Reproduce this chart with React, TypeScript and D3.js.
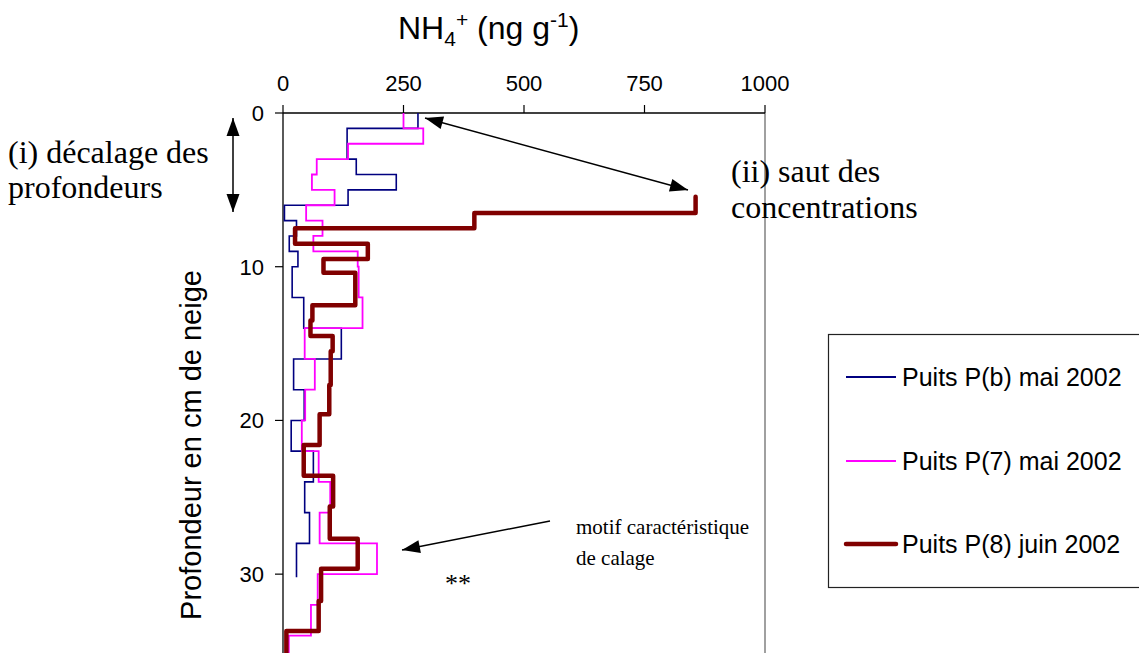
import * as d3 from 'd3'

// NH4+ profiles, step data: depth boundaries (cm) and concentration per layer (ng/g)
const xTicks = [0, 250, 500, 750, 1000]
const yTicks = [0, 10, 20, 30]

const depthsPb = [0, 1, 2, 3, 4, 5, 6, 7, 8, 9, 10, 12, 14, 16, 18, 20, 22, 24, 26, 28, 30.2]
const valuesPb = [280, 133, 133, 152, 235, 135, 3, 28, 13, 31, 19, 43, 121, 22, 44, 17, 63, 45, 55, 28]

const depthsP7 = [0, 1, 2, 3, 4, 5, 6, 7, 8, 9, 10, 12, 14, 16, 18, 20, 22, 24, 26, 28, 30, 32, 34, 36]
const valuesP7 = [250, 291, 135, 70, 60, 107, 48, 82, 63, 155, 157, 165, 45, 66, 46, 39, 74, 98, 76, 195, 72, 58, 12]

const depthsP8 = [5.45, 6.5, 7.5, 8.5, 9.5, 10.4, 12.5, 13.5, 14.5, 15.5, 17.7, 19.6, 21.6, 23.6, 25.6, 27.7, 29.65, 31.75, 33.7, 36]
const valuesP8 = [856, 397, 25, 176, 84, 150, 61, 57, 103, 99, 96, 76, 43, 104, 97, 155, 79, 74, 7]

const seriesNames = ['Puits P(b) mai 2002', 'Puits P(7) mai 2002', 'Puits P(8) juin 2002']
const seriesColors = ['#000080', '#FF00FF', '#800000']
const seriesWidths = [1.6, 1.8, 4.5]

const W = 1139
const H = 653
const sans = '"Liberation Sans", Arial, sans-serif'
const serif = '"Liberation Serif", "Times New Roman", serif'

const x = d3.scaleLinear().domain([0, 1000]).range([283, 765])
const y = d3.scaleLinear().domain([0, 35]).range([113, 651])

function stepPoints(depths: number[], values: number[]): [number, number][] {
  const pts: [number, number][] = []
  values.forEach((v, i) => {
    pts.push([v, depths[i]])
    pts.push([v, depths[i + 1]])
  })
  return pts
}

const line = d3
  .line<[number, number]>()
  .x((d) => x(d[0]))
  .y((d) => y(d[1]))

// filled arrow head, tip at (tx,ty), coming from (fx,fy)
function head(tx: number, ty: number, fx: number, fy: number, len = 18, half = 6.5) {
  const a = Math.atan2(ty - fy, tx - fx)
  const bx = tx - len * Math.cos(a)
  const by = ty - len * Math.sin(a)
  const px = -Math.sin(a) * half
  const py = Math.cos(a) * half
  return `M${tx},${ty}L${bx + px},${by + py}L${bx - px},${by - py}Z`
}

function Arrow({ x1, y1, x2, y2, both = false }: { x1: number; y1: number; x2: number; y2: number; both?: boolean }) {
  return (
    <g>
      <line x1={x1} y1={y1} x2={x2} y2={y2} stroke="#000" strokeWidth={1.5} />
      <path d={head(x2, y2, x1, y1)} fill="#000" />
      {both && <path d={head(x1, y1, x2, y2)} fill="#000" />}
    </g>
  )
}

export default function App() {
  const series = [
    stepPoints(depthsPb, valuesPb),
    stepPoints(depthsP7, valuesP7),
    stepPoints(depthsP8, valuesP8),
  ]
  const legendY = [377, 461, 544]

  return (
    <svg
      width={W}
      height={H}
      style={{ position: 'absolute', left: 0, top: 0, background: '#fff' }}
    >
      <defs>
        <clipPath id="plot">
          <rect x={x(0)} y={y(0) - 10} width={x(1000) - x(0)} height={H} />
        </clipPath>
      </defs>

      {/* title */}
      <text x={398} y={39} fontFamily={sans} fontSize={32} fill="#000">
        NH
        <tspan fontSize={21} dy={7}>4</tspan>
        <tspan fontSize={21} dy={-19}>+</tspan>
        <tspan fontSize={32} dy={12}>{' (ng g'}</tspan>
        <tspan fontSize={21} dy={-12}>-1</tspan>
        <tspan fontSize={32} dy={12}>)</tspan>
      </text>

      {/* frame */}
      <line x1={x(1000)} x2={x(1000)} y1={y(0)} y2={H} stroke="#808080" strokeWidth={1.5} />
      <line x1={x(0)} x2={x(1000)} y1={y(0)} y2={y(0)} stroke="#000" strokeWidth={1.3} />
      <line x1={x(0)} x2={x(0)} y1={y(0)} y2={H} stroke="#000" strokeWidth={1.3} />

      {xTicks.map((t) => (
        <g key={t}>
          <line x1={x(t)} x2={x(t)} y1={y(0) - 8} y2={y(0)} stroke="#000" strokeWidth={1.2} />
          <text x={x(t)} y={91} textAnchor="middle" fontFamily={sans} fontSize={22} fill="#000">
            {t}
          </text>
        </g>
      ))}
      {yTicks.map((t) => (
        <g key={t}>
          <line x1={x(0) - 8} x2={x(0)} y1={y(t)} y2={y(t)} stroke="#000" strokeWidth={1.2} />
          <text x={264} y={y(t) + 8} textAnchor="end" fontFamily={sans} fontSize={22} fill="#000">
            {t}
          </text>
        </g>
      ))}

      <text
        transform={`translate(201,${445}) rotate(-90)`}
        textAnchor="middle"
        fontFamily={sans}
        fontSize={29}
        fill="#000"
      >
        Profondeur en cm de neige
      </text>

      {/* series */}
      <g clipPath="url(#plot)">
        {series.map((pts, i) => (
          <path
            key={i}
            d={line(pts) ?? ''}
            fill="none"
            stroke={seriesColors[i]}
            strokeWidth={seriesWidths[i]}
            strokeLinejoin={i === 2 ? 'round' : 'miter'}
            strokeLinecap={i === 2 ? 'round' : 'butt'}
          />
        ))}
      </g>

      {/* annotations */}
      <text fontFamily={serif} fontSize={32} fill="#000">
        <tspan x={8} y={163}>(i) décalage des</tspan>
        <tspan x={8} y={198}>profondeurs</tspan>
      </text>
      <Arrow x1={233} y1={118} x2={233} y2={212} both />

      <text fontFamily={serif} fontSize={32} fill="#000">
        <tspan x={731} y={182}>(ii) saut des</tspan>
        <tspan x={731} y={218}>concentrations</tspan>
      </text>
      <Arrow x1={425} y1={118} x2={688} y2={190} both />

      <text fontFamily={serif} fontSize={21} fill="#000">
        <tspan x={576} y={534}>motif caractéristique</tspan>
        <tspan x={576} y={565}>de calage</tspan>
      </text>
      <Arrow x1={550} y1={521} x2={402} y2={550} />
      <text x={445} y={592} fontFamily={serif} fontSize={26} fill="#000">
        **
      </text>

      {/* legend */}
      <rect x={828.5} y={334.5} width={330} height={253} fill="#fff" stroke="#222" strokeWidth={1.2} />
      {seriesNames.map((n, i) => (
        <g key={n}>
          <line
            x1={846}
            x2={896}
            y1={legendY[i]}
            y2={legendY[i]}
            stroke={seriesColors[i]}
            strokeWidth={i === 2 ? 4.5 : 1.8}
            strokeLinecap={i === 2 ? 'round' : 'butt'}
          />
          <text x={902} y={legendY[i] + 9} fontFamily={sans} fontSize={25} fill="#000">
            {n}
          </text>
        </g>
      ))}
    </svg>
  )
}
